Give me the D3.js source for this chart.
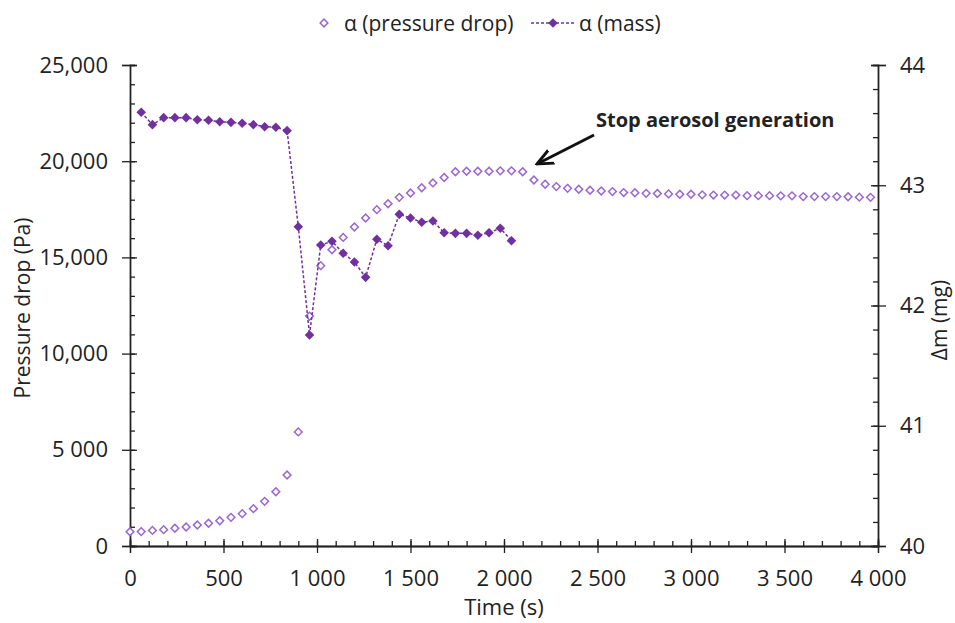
<!DOCTYPE html>
<html>
<head>
<meta charset="utf-8">
<script src="https://d3js.org/d3.v7.min.js"></script>
<style>
  body { margin: 0; background: #fff; }
  text { font-family: "Open Sans", Lato, sans-serif; fill: #222; }
</style>
</head>
<body>
<div id="chart"></div>
<script>
// pressure drop (Pa), one point every 60 s from t = 0
var pressureTime = d3.range(0, 3961, 60)
var pressureDrop = [
  740, 750, 810, 850, 920, 990, 1090, 1180, 1310, 1490, 1680, 1940, 2320, 2820, 3690, 5930,
  11950, 14570, 15400, 16040, 16580, 17050, 17480, 17790, 18120, 18350, 18620, 18870, 19150,
  19450, 19480, 19480, 19480, 19500, 19500, 19450,
  19020, 18800, 18680, 18590, 18540, 18490, 18450, 18420, 18370, 18360, 18330, 18320, 18300,
  18280, 18280, 18250, 18240, 18240, 18240, 18210, 18210, 18210, 18200, 18200, 18160, 18160,
  18160, 18160, 18150, 18130, 18120
]
// mass (mg), every 60 s from t = 60 to 2040
var massTime = d3.range(60, 2041, 60)
var mass = [
  43.607, 43.504, 43.562, 43.562, 43.562, 43.545, 43.540, 43.528, 43.523, 43.515, 43.504,
  43.487, 43.482, 43.454, 42.655,
  41.755, 42.503, 42.534, 42.434, 42.362, 42.234, 42.551, 42.497, 42.758, 42.728, 42.692,
  42.703, 42.605, 42.600, 42.600, 42.584, 42.605, 42.642, 42.539
]

var xTicks = [0, 500, 1000, 1500, 2000, 2500, 3000, 3500, 4000]
var xTickLabels = ["0", "500", "1 000", "1 500", "2 000", "2 500", "3 000", "3 500", "4 000"]
var yTicks = [0, 5000, 10000, 15000, 20000, 25000]
var yTickLabels = ["0", "5 000", "10,000", "15,000", "20,000", "25,000"]
var y2Ticks = [40, 41, 42, 43, 44]
var y2TickLabels = ["40", "41", "42", "43", "44"]

var seriesNames = ["α (pressure drop)", "α (mass)"]
var annotation = "Stop aerosol generation"

var width = 955, height = 623
var plotL = 130, plotR = 878, plotT = 65, plotB = 546
var openColor = "#9a68d0", darkColor = "#7030a0"
var fs = "22px"

var svg = d3.select("#chart").append("svg")
  .attr("width", width)
  .attr("height", height)

var x = d3.scaleLinear().domain([0, 4000]).range([plotL, plotR])
var y = d3.scaleLinear().domain([0, 25000]).range([plotB, plotT])
var y2 = d3.scaleLinear().domain([40, 44]).range([plotB, plotT])

function styleAxis(g) {
  g.select(".domain").attr("stroke", "#222").attr("stroke-width", 1.3)
  g.selectAll(".tick line").attr("stroke", "#222").attr("stroke-width", 1.3)
  g.selectAll("text").style("font-size", fs).attr("fill", "#222")
}

// x axis: outer half of major ticks with labels, inner half and minor ticks
svg.append("g").attr("transform", "translate(0," + plotB + ")")
  .call(d3.axisBottom(x).tickValues(xTicks).tickSize(7).tickPadding(17)
    .tickFormat(function(d, i) { return xTickLabels[i] }))
  .call(styleAxis)
svg.append("g").attr("transform", "translate(0," + plotB + ")")
  .call(d3.axisBottom(x).tickValues(xTicks).tickSize(-7).tickFormat(""))
  .call(styleAxis)
svg.append("g").attr("transform", "translate(0," + plotB + ")")
  .call(d3.axisBottom(x).tickValues(d3.range(0, 4001, 100)).tickSize(-5).tickFormat(""))
  .call(styleAxis)

// left axis
svg.append("g").attr("transform", "translate(" + plotL + ",0)")
  .call(d3.axisLeft(y).tickValues(yTicks).tickSize(8).tickPadding(14)
    .tickFormat(function(d, i) { return yTickLabels[i] }))
  .call(styleAxis)
svg.append("g").attr("transform", "translate(" + plotL + ",0)")
  .call(d3.axisLeft(y).tickValues(yTicks).tickSize(-7).tickFormat(""))
  .call(styleAxis)
svg.append("g").attr("transform", "translate(" + plotL + ",0)")
  .call(d3.axisLeft(y).tickValues(d3.range(0, 25001, 1000)).tickSize(-5).tickFormat(""))
  .call(styleAxis)

// right axis
svg.append("g").attr("transform", "translate(" + plotR + ",0)")
  .call(d3.axisRight(y2).tickValues(y2Ticks).tickSize(8).tickPadding(14)
    .tickFormat(function(d, i) { return y2TickLabels[i] }))
  .call(styleAxis)
svg.append("g").attr("transform", "translate(" + plotR + ",0)")
  .call(d3.axisRight(y2).tickValues(y2Ticks).tickSize(-7).tickFormat(""))
  .call(styleAxis)
svg.append("g").attr("transform", "translate(" + plotR + ",0)")
  .call(d3.axisRight(y2).tickValues(d3.range(40, 44.01, 0.2)).tickSize(-5).tickFormat(""))
  .call(styleAxis)

// axis titles
svg.append("text").attr("x", 504).attr("y", 615)
  .attr("text-anchor", "middle").style("font-size", fs).text("Time (s)")
svg.append("text").attr("transform", "translate(30,308) rotate(-90)")
  .attr("text-anchor", "middle").style("font-size", "21px").text("Pressure drop (Pa)")
svg.append("text").attr("transform", "translate(947,320) rotate(-90)")
  .attr("text-anchor", "middle").style("font-size", "21px").text("Δm (mg)")

// square diamonds (rotated squares)
var openDiamond = d3.symbol().type(d3.symbolSquare).size(30)
var filledDiamond = d3.symbol().type(d3.symbolSquare).size(46)

// pressure drop markers
svg.append("g").selectAll("path")
  .data(pressureTime.map(function(t, i) { return [t, pressureDrop[i]] }))
  .join("path")
  .attr("d", openDiamond)
  .attr("transform", function(d) { return "translate(" + x(d[0]) + "," + y(d[1]) + ") rotate(45)" })
  .attr("fill", "#fff")
  .attr("stroke", openColor)
  .attr("stroke-width", 1.5)

// mass line + markers
var massData = massTime.map(function(t, i) { return [t, mass[i]] })
svg.append("path")
  .datum(massData)
  .attr("d", d3.line().x(function(d) { return x(d[0]) }).y(function(d) { return y2(d[1]) }))
  .attr("fill", "none")
  .attr("stroke", darkColor)
  .attr("stroke-width", 1.5)
  .attr("stroke-dasharray", "3,2")
svg.append("g").selectAll("path")
  .data(massData)
  .join("path")
  .attr("d", filledDiamond)
  .attr("transform", function(d) { return "translate(" + x(d[0]) + "," + y2(d[1]) + ") rotate(45)" })
  .attr("fill", darkColor)

// legend
var lg = svg.append("g")
lg.append("path").attr("d", openDiamond).attr("transform", "translate(324,23) rotate(45)")
  .attr("fill", "#fff").attr("stroke", openColor).attr("stroke-width", 1.5)
lg.append("text").attr("x", 344).attr("y", 31).style("font-size", "21px").text(seriesNames[0])
lg.append("line").attr("x1", 531).attr("x2", 575).attr("y1", 23).attr("y2", 23)
  .attr("stroke", darkColor).attr("stroke-width", 1.5).attr("stroke-dasharray", "3,2")
lg.append("path").attr("d", filledDiamond).attr("transform", "translate(553,23) rotate(45)").attr("fill", darkColor)
lg.append("text").attr("x", 579).attr("y", 31).style("font-size", "21px").text(seriesNames[1])

// annotation arrow
svg.append("defs").append("marker")
  .attr("id", "arrow").attr("viewBox", "0 0 10 10")
  .attr("refX", 9).attr("refY", 5)
  .attr("markerWidth", 6).attr("markerHeight", 6)
  .attr("orient", "auto")
  .append("path").attr("d", "M0,1 L9,5 L0,9").attr("fill", "none")
  .attr("stroke", "#111").attr("stroke-width", 1.6)
svg.append("line")
  .attr("x1", 594).attr("y1", 135).attr("x2", 537).attr("y2", 164)
  .attr("stroke", "#111").attr("stroke-width", 3)
  .attr("marker-end", "url(#arrow)")
svg.append("text").attr("x", 596).attr("y", 127)
  .style("font-size", "20px").style("font-weight", "bold").text(annotation)
</script>
</body>
</html>
